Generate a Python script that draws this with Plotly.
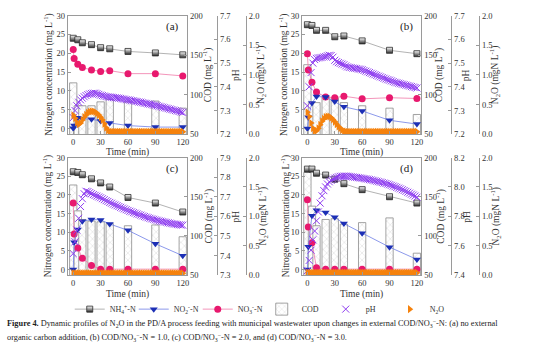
import plotly.graph_objects as go

W, H = 554, 353

# ---------------- data ----------------
T_NH4 = [0, 5, 10, 20, 30, 40, 60, 90, 120]
T_NO = [0, 1, 5, 10, 20, 30, 40, 60, 90, 120]
T_COD = [0, 5, 10, 20, 30, 40, 60, 90, 120]
T_DENSE = list(range(0, 121, 2))

NH4_a = [24.0, 23.6, 22.8, 22.3, 21.5, 21.2, 20.5, 20.1, 19.6]
NH4_b = [27.6, 27.4, 26.1, 26.1, 24.4, 24.6, 23.3, 20.8, 19.9]
NH4_c = [26.2, 26.0, 25.4, 24.3, 23.2, 22.1, 19.3, 17.8, 15.4]
NH4_d = [26.9, 26.9, 25.8, 25.3, 24.2, 23.0, 21.4, 19.5, 17.8]

NO2_a = [0.1, 0.8, 2.9, 2.6, 2.5, 2.0, 1.5, 0.8, 0.4, 0.4]
NO2_b = [0.0, 3.0, 6.8, 8.5, 8.4, 7.2, 5.8, 4.7, 2.2, 1.2]
NO2_c = [0.0, 7.3, 10.7, 12.9, 13.4, 13.3, 12.2, 10.5, 6.9, 3.7]
NO2_d = [0.0, 6.1, 14.4, 15.9, 15.3, 14.0, 12.3, 9.7, 6.0, 2.7]

NO3_a = [21.0, 18.6, 17.1, 16.2, 15.6, 15.2, 15.4, 14.6, 14.6, 14.0]
NO3_b = [19.9, 15.6, 12.3, 9.7, 8.4, 8.2, 8.6, 7.9, 8.2, 8.0]
NO3_c = [17.8, 9.5, 5.8, 3.0, 1.1, 0.1, 0.1, 0.1, 0.1, 0.1]
NO3_d = [18.7, 11.4, 7.2, 0.5, 0.1, 0.1, 0.1, 0.1, 0.1, 0.1]

COD_a = [115, 86, 86, 86, 91, 94, 91, 92, 83]
COD_b = [138, 90, 90, 98, 96, 90, 86, 83, 75]
COD_c = [165, 132, 121, 119, 118, 116, 113, 114, 99]
COD_d = [181, 138, 113, 121, 122, 115, 117, 123, 78]

PH_a = [7.27, 7.30, 7.32, 7.335, 7.345, 7.352, 7.358, 7.363, 7.367, 7.370,
        7.372, 7.373, 7.373, 7.371, 7.368, 7.365, 7.363, 7.361, 7.359, 7.358,
        7.357, 7.356, 7.355, 7.354, 7.353, 7.352, 7.351, 7.349, 7.348, 7.346,
        7.345, 7.344, 7.342, 7.341, 7.339, 7.338, 7.336, 7.335, 7.333, 7.331,
        7.330, 7.328, 7.327, 7.325, 7.323, 7.322, 7.320, 7.318, 7.316, 7.314,
        7.312, 7.310, 7.308, 7.306, 7.304, 7.302, 7.300, 7.298, 7.296, 7.294,
        7.292]
PH_b = [7.32, 7.40, 7.46, 7.50, 7.515, 7.52, 7.522, 7.523, 7.524, 7.526,
        7.528, 7.531, 7.533, 7.532, 7.525, 7.512, 7.506, 7.502, 7.499, 7.496,
        7.493, 7.488, 7.484, 7.482, 7.481, 7.479, 7.478, 7.477, 7.475, 7.474,
        7.472, 7.469, 7.466, 7.463, 7.460, 7.457, 7.454, 7.451, 7.448, 7.445,
        7.442, 7.439, 7.436, 7.433, 7.430, 7.428, 7.425, 7.422, 7.419, 7.417,
        7.415, 7.413, 7.411, 7.409, 7.407, 7.405, 7.403, 7.401, 7.399, 7.397,
        7.395]
PH_c = [7.41, 7.47, 7.53, 7.59, 7.65, 7.69, 7.715, 7.728, 7.726, 7.721,
        7.716, 7.711, 7.707, 7.703, 7.699, 7.695, 7.690, 7.685, 7.680, 7.676,
        7.671, 7.667, 7.662, 7.658, 7.654, 7.650, 7.646, 7.642, 7.638, 7.634,
        7.630, 7.626, 7.623, 7.619, 7.616, 7.612, 7.609, 7.606, 7.602, 7.599,
        7.596, 7.593, 7.590, 7.587, 7.585, 7.582, 7.580, 7.577, 7.575, 7.573,
        7.571, 7.569, 7.567, 7.565, 7.563, 7.561, 7.560, 7.558, 7.557, 7.556,
        7.555]
PH_d = [7.43, 7.50, 7.57, 7.64, 7.70, 7.77, 7.83, 7.89, 7.94, 7.975,
        8.000, 8.020, 8.035, 8.045, 8.053, 8.060, 8.065, 8.069, 8.072, 8.073,
        8.074, 8.074, 8.073, 8.072, 8.070, 8.068, 8.066, 8.065, 8.063, 8.061,
        8.059, 8.057, 8.055, 8.053, 8.050, 8.048, 8.045, 8.042, 8.039, 8.036,
        8.033, 8.030, 8.026, 8.023, 8.019, 8.015, 8.011, 8.006, 8.002, 7.997,
        7.992, 7.987, 7.981, 7.976, 7.970, 7.964, 7.958, 7.951, 7.945, 7.938,
        7.930]

N2O_a = [0.32, 0.27, 0.20, 0.17, 0.19, 0.24, 0.29, 0.33, 0.36, 0.38,
         0.385, 0.385, 0.375, 0.355, 0.325, 0.285, 0.24, 0.175, 0.11, 0.065,
         0.045, 0.04, 0.04, 0.04, 0.04, 0.04, 0.04, 0.04, 0.04, 0.04,
         0.04, 0.04, 0.04, 0.04, 0.04, 0.04, 0.04, 0.04, 0.04, 0.04,
         0.04, 0.04, 0.04, 0.04, 0.04, 0.04, 0.04, 0.04, 0.04, 0.04,
         0.04, 0.04, 0.04, 0.04, 0.04, 0.04, 0.04, 0.04, 0.04, 0.04,
         0.04]
N2O_b = [0.37, 0.30, 0.19, 0.10, 0.055, 0.06, 0.10, 0.16, 0.22, 0.26,
         0.29, 0.30, 0.30, 0.28, 0.25, 0.21, 0.17, 0.13, 0.10, 0.07,
         0.05, 0.045, 0.04, 0.04, 0.04, 0.04, 0.04, 0.04, 0.04, 0.04,
         0.04, 0.04, 0.04, 0.04, 0.04, 0.04, 0.04, 0.04, 0.04, 0.04,
         0.04, 0.04, 0.04, 0.04, 0.04, 0.04, 0.04, 0.04, 0.04, 0.04,
         0.04, 0.04, 0.04, 0.04, 0.04, 0.04, 0.04, 0.04, 0.04, 0.04,
         0.04]
N2O_c = [0.03, 0.03, 0.03, 0.03, 0.03, 0.03, 0.03, 0.03, 0.03, 0.03,
         0.03, 0.03, 0.03, 0.03, 0.03, 0.03, 0.03, 0.03, 0.03, 0.03,
         0.03, 0.03, 0.03, 0.03, 0.03, 0.03, 0.03, 0.03, 0.03, 0.03,
         0.03, 0.03, 0.03, 0.03, 0.03, 0.03, 0.03, 0.03, 0.03, 0.03,
         0.03, 0.03, 0.03, 0.03, 0.03, 0.03, 0.03, 0.03, 0.03, 0.03,
         0.03, 0.03, 0.03, 0.03, 0.03, 0.03, 0.03, 0.03, 0.03, 0.03,
         0.03]
N2O_d = [0.04, 0.04, 0.04, 0.04, 0.04, 0.04, 0.04, 0.04, 0.04, 0.04,
         0.04, 0.04, 0.04, 0.04, 0.04, 0.04, 0.04, 0.04, 0.04, 0.04,
         0.04, 0.04, 0.04, 0.04, 0.04, 0.04, 0.04, 0.04, 0.04, 0.04,
         0.04, 0.04, 0.04, 0.04, 0.04, 0.04, 0.04, 0.04, 0.04, 0.04,
         0.04, 0.04, 0.04, 0.04, 0.04, 0.04, 0.04, 0.04, 0.04, 0.04,
         0.04, 0.04, 0.04, 0.04, 0.04, 0.04, 0.04, 0.04, 0.04, 0.04,
         0.04]

TIME_TICKS = [0, 30, 60, 90, 120]
LEGEND_NAMES = ["NH<sub>4</sub><sup>+</sup>-N", "NO<sub>2</sub><sup>-</sup>-N",
                "NO<sub>3</sub><sup>-</sup>-N", "COD", "pH", "N<sub>2</sub>O"]
TITLE_N = "Nitrogen concentration (mg L<sup>-1</sup>)"
TITLE_COD = "COD (mg L<sup>-1</sup>)"
TITLE_PH = "pH"
TITLE_N2O = "N<sub>2</sub>O (mgN L<sup>-1</sup>)"
TITLE_T = "Time (min)"
CAPTION_1 = ("<b>Figure 4.</b> Dynamic profiles of N<sub>2</sub>O in the PD/A process feeding with "
             "municipal wastewater upon changes in external COD/NO<sub>3</sub><sup>\u2212</sup>-N: "
             "(a) no external")
CAPTION_2 = ("organic carbon addition, (b) COD/NO<sub>3</sub><sup>\u2212</sup>-N = 1.0, "
             "(c) COD/NO<sub>3</sub><sup>\u2212</sup>-N = 2.0, and (d) "
             "COD/NO<sub>3</sub><sup>\u2212</sup>-N = 3.0.")

PANELS = [
    dict(label="(a)", nh4=NH4_a, no2=NO2_a, no3=NO3_a, cod=COD_a, ph=PH_a, n2o=N2O_a,
         ph_range=[7.2, 7.7], ph_dtick=0.1),
    dict(label="(b)", nh4=NH4_b, no2=NO2_b, no3=NO3_b, cod=COD_b, ph=PH_b, n2o=N2O_b,
         ph_range=[7.2, 7.7], ph_dtick=0.1),
    dict(label="(c)", nh4=NH4_c, no2=NO2_c, no3=NO3_c, cod=COD_c, ph=PH_c, n2o=N2O_c,
         ph_range=[7.3, 7.9], ph_dtick=0.1),
    dict(label="(d)", nh4=NH4_d, no2=NO2_d, no3=NO3_d, cod=COD_d, ph=PH_d, n2o=N2O_d,
         ph_range=[7.4, 8.2], ph_dtick=0.2),
]

# ---------------- layout geometry (pixels) ----------------
GEOM = [
    dict(x0=68, x1=188, y0=11, y1=133, ph_x=218, n2o_x=247,
         tn=49, tcod=209, tph=237, tn2o=262, tt=152),
    dict(x0=303, x1=423, y0=11, y1=133, ph_x=453, n2o_x=481,
         tn=285, tcod=441, tph=468, tn2o=497, tt=152),
    dict(x0=68, x1=188, y0=157, y1=278, ph_x=218, n2o_x=247,
         tn=48, tcod=209, tph=237, tn2o=263, tt=298),
    dict(x0=303, x1=423, y0=157, y1=278, ph_x=453, n2o_x=481,
         tn=286, tcod=442, tph=469, tn2o=497, tt=298),
]

def px(x):
    return x / W

def py(y):
    return 1 - y / H

FONT = "Liberation Serif"
AXC = "#9a9a9a"
TXT = "#333333"
C_NH4 = "#2b2b2b"
C_NO2 = "#1c2fb5"
C_NO3 = "#e8196e"
C_PH = "#8e3cf0"
C_N2O = "#f5820d"
C_COD = "#8c8c8c"

fig = go.Figure()
layout = dict(
    width=W, height=H, margin=dict(l=0, r=0, t=0, b=0),
    paper_bgcolor="white", plot_bgcolor="white",
    barmode="overlay", font=dict(family=FONT, size=8.5, color=TXT),
    showlegend=True,
)

tickfont = dict(family=FONT, size=8.5, color=TXT)
TFS = 9.5

def yid(n):
    return "y" if n == 1 else "y" + str(n)

def ykey(n):
    return "yaxis" if n == 1 else "yaxis" + str(n)

common_axis = dict(showline=True, linecolor=AXC, linewidth=1, ticks="inside", ticklen=3,
                   tickcolor=AXC, showgrid=False, zeroline=False, tickfont=tickfont)

annotations = []

for i, (p, g) in enumerate(zip(PANELS, GEOM)):
    xs = "" if i == 0 else str(i + 1)
    xid = "x" + xs
    ycod = 4 * i + 1
    yn, yph, yno = ycod + 1, ycod + 2, ycod + 3

    leg = i == 0
    fig.add_trace(go.Bar(
        x=T_COD, y=p["cod"], width=8, xaxis=xid, yaxis=yid(ycod),
        name=LEGEND_NAMES[3], showlegend=leg, legendrank=4,
        marker=dict(color="white", line=dict(color=C_COD, width=0.8),
                    pattern=dict(shape="x", fgcolor="#8a8a8a", bgcolor="white",
                                 size=5, solidity=0.12)),
    ))
    fig.add_trace(go.Scatter(
        x=T_NH4, y=p["nh4"], mode="lines+markers", xaxis=xid, yaxis=yid(yn),
        name=LEGEND_NAMES[0], showlegend=leg, legendrank=1,
        line=dict(color="#a0a0a0", width=0.8),
        marker=dict(symbol="square", size=6, color="white",
                    gradient=dict(type="vertical", color=C_NH4),
                    line=dict(color=C_NH4, width=0.8)),
    ))
    fig.add_trace(go.Scatter(
        x=T_NO, y=p["no3"], mode="lines+markers", xaxis=xid, yaxis=yid(yn),
        name=LEGEND_NAMES[2], showlegend=leg, legendrank=3,
        line=dict(color="#f07aa8", width=0.8),
        marker=dict(symbol="circle", size=7, color=C_NO3),
    ))
    fig.add_trace(go.Scatter(
        x=T_NO, y=p["no2"], mode="lines+markers", xaxis=xid, yaxis=yid(yn),
        name=LEGEND_NAMES[1], showlegend=leg, legendrank=2,
        line=dict(color="#6f7fe6", width=0.8),
        marker=dict(symbol="triangle-down", size=7, color=C_NO2),
    ))
    fig.add_trace(go.Scatter(
        x=T_DENSE, y=p["ph"], mode="markers", xaxis=xid, yaxis=yid(yph),
        name=LEGEND_NAMES[4], showlegend=leg, legendrank=5,
        marker=dict(symbol="x-thin", size=7, color=C_PH, line=dict(color=C_PH, width=1)),
    ))
    fig.add_trace(go.Scatter(
        x=T_DENSE, y=p["n2o"], mode="markers", xaxis=xid, yaxis=yid(yno),
        name=LEGEND_NAMES[5], showlegend=leg, legendrank=6,
        marker=dict(symbol="triangle-right", size=7, color=C_N2O),
    ))

    dom_y = [py(g["y1"]), py(g["y0"])]
    layout["xaxis" + xs] = dict(
        domain=[px(g["x0"]), px(g["x1"])], anchor=yid(ycod), range=[-6, 125],
        tickvals=TIME_TICKS, mirror=True, **common_axis,
    )
    layout[ykey(ycod)] = dict(
        domain=dom_y, anchor=xid, side="right", range=[50, 200], dtick=50, **common_axis,
    )
    layout[ykey(yn)] = dict(
        overlaying=yid(ycod), anchor=xid, side="left", range=[-1.5, 30], dtick=5,
        **common_axis,
    )
    layout[ykey(yph)] = dict(
        overlaying=yid(ycod), anchor="free", position=px(g["ph_x"]), side="right",
        range=p["ph_range"], dtick=p["ph_dtick"], tickformat=".1f", **common_axis,
    )
    layout[ykey(yno)] = dict(
        overlaying=yid(ycod), anchor="free", position=px(g["n2o_x"]), side="right",
        range=[0, 2], dtick=0.5, tickformat=".1f", **common_axis,
    )

    yc = py((g["y0"] + g["y1"]) / 2)
    for tx, txt in ((g["tn"], TITLE_N), (g["tcod"], TITLE_COD),
                    (g["tph"], TITLE_PH), (g["tn2o"], TITLE_N2O)):
        annotations.append(dict(
            x=px(tx), y=yc, xref="paper", yref="paper", text=txt, textangle=-90,
            showarrow=False, xanchor="center", yanchor="middle",
            font=dict(family=FONT, size=TFS, color=TXT),
        ))
    annotations.append(dict(
        x=px((g["x0"] + g["x1"]) / 2), y=py(g["tt"]), xref="paper", yref="paper",
        text=TITLE_T, showarrow=False, xanchor="center", yanchor="middle",
        font=dict(family=FONT, size=TFS, color=TXT),
    ))
    annotations.append(dict(
        x=px(g["x1"] - 6), y=py(g["y0"] + 11), xref="paper", yref="paper",
        text=p["label"], showarrow=False, xanchor="right", yanchor="middle",
        font=dict(family=FONT, size=11, color="#222"),
    ))

for txt, yy in ((CAPTION_1, 328), (CAPTION_2, 342)):
    annotations.append(dict(
        x=px(5), y=py(yy), xref="paper", yref="paper", xanchor="left", yanchor="middle",
        showarrow=False, align="left", font=dict(family=FONT, size=8.3, color="#222"),
        text=txt,
    ))
layout["annotations"] = annotations
layout["legend"] = dict(
    orientation="h", x=px(70), y=py(313), xanchor="left", yanchor="middle",
    font=dict(family=FONT, size=8, color=TXT), itemwidth=30,
    entrywidth=19, entrywidthmode="pixels", bgcolor="rgba(0,0,0,0)",
    tracegroupgap=0,
)
fig.update_layout(**layout)
fig.write_html("out.html")
